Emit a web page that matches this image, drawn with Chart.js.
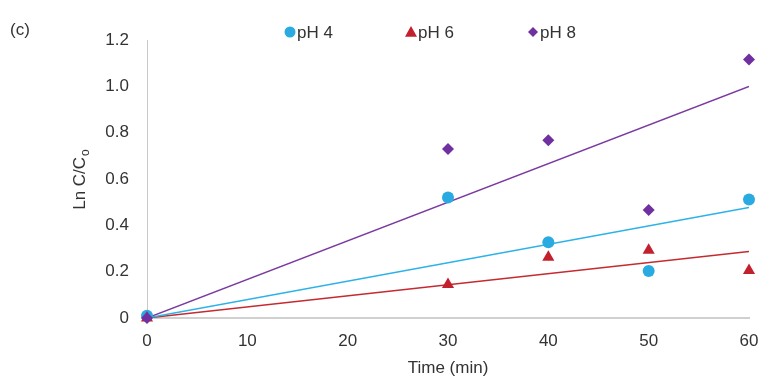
<!DOCTYPE html>
<html lang="en">
  <head>
    <meta charset="UTF-8" />
    <title>Ln C/Co vs time</title>
    <script src="https://cdn.jsdelivr.net/npm/chart.js"></script>
    <style>
      body {
        margin: 0;
        background: #fff;
      }
      canvas {
        display: block;
      }
    </style>
  </head>
  <body>
    <canvas id="chart" width="760" height="381"></canvas>

    <script>
      // measured points (time in min, Ln C/Co)
      const times = [0, 30, 40, 50, 60]
      const ph4 = [0.01, 0.52, 0.327, 0.203, 0.512]
      const ph6 = [0, 0.145, 0.262, 0.292, 0.205]
      const ph8 = [0, 0.729, 0.767, 0.466, 1.116]

      // linear trend lines, start and end values
      const trendX = [0, 60]
      const trend4 = [0, 0.477]
      const trend6 = [0, 0.287]
      const trend8 = [0, 1.0]

      const xTicks = [0, 10, 20, 30, 40, 50, 60]
      const yTicks = [0, 0.2, 0.4, 0.6, 0.8, 1.0, 1.2]

      const FONT = 'Liberation Sans, Arial, sans-serif'
      const TEXT = '#333333'

      const toPts = (xs, ys) => xs.map((x, i) => ({ x: x, y: ys[i] }))

      // draws the marker shapes for the legend
      function marker(ctx, style, x, y, r, color) {
        ctx.save()
        ctx.fillStyle = color
        ctx.beginPath()
        if (style === 'circle') {
          ctx.arc(x, y, r, 0, Math.PI * 2)
        } else if (style === 'triangle') {
          ctx.moveTo(x, y - r)
          ctx.lineTo(x + r, y + r * 0.8)
          ctx.lineTo(x - r, y + r * 0.8)
        } else {
          ctx.moveTo(x, y - r)
          ctx.lineTo(x + r, y)
          ctx.lineTo(x, y + r)
          ctx.lineTo(x - r, y)
        }
        ctx.closePath()
        ctx.fill()
        ctx.restore()
      }

      const extras = {
        id: 'extras',
        afterDraw(chart) {
          const ctx = chart.ctx
          ctx.save()
          ctx.fillStyle = TEXT
          ctx.font = '17px ' + FONT
          ctx.textBaseline = 'middle'
          ctx.fillText('(c)', 10, 30)

          // legend
          const items = [
            { text: 'pH 4', style: 'circle', color: '#29abe2', x: 290, r: 5.5 },
            { text: 'pH 6', style: 'triangle', color: '#c3202e', x: 411, r: 6 },
            { text: 'pH 8', style: 'rectRot', color: '#7030a0', x: 533, r: 5 },
          ]
          items.forEach((it) => {
            marker(ctx, it.style, it.x, 32, it.r, it.color)
            ctx.fillStyle = TEXT
            ctx.fillText(it.text, it.x + 7, 33)
          })

          // y axis title with subscript
          ctx.translate(80, 180)
          ctx.rotate(-Math.PI / 2)
          const main = 'Ln C/C'
          ctx.font = '17px ' + FONT
          const w1 = ctx.measureText(main).width
          ctx.font = '12px ' + FONT
          const w2 = ctx.measureText('o').width
          const start = -(w1 + w2) / 2
          ctx.font = '17px ' + FONT
          ctx.textAlign = 'left'
          ctx.fillText(main, start, 0)
          ctx.font = '12px ' + FONT
          ctx.fillText('o', start + w1 + 1, 6)
          ctx.restore()
        },
      }

      new Chart(document.getElementById('chart'), {
        type: 'scatter',
        data: {
          datasets: [
            {
              label: 'pH 4',
              data: toPts(times, ph4),
              pointStyle: 'circle',
              pointRadius: 6,
              backgroundColor: '#29abe2',
              borderWidth: 0,
              clip: false,
              order: 2,
            },
            {
              label: 'pH 6',
              data: toPts(times, ph6),
              pointStyle: 'triangle',
              pointRadius: 7,
              backgroundColor: '#c3202e',
              borderWidth: 0,
              clip: false,
              order: 1,
            },
            {
              label: 'pH 8',
              data: toPts(times, ph8),
              pointStyle: 'rectRot',
              pointRadius: 6,
              backgroundColor: '#7030a0',
              borderWidth: 0,
              clip: false,
              order: 0,
            },
            {
              type: 'line',
              label: 'trend pH 4',
              data: toPts(trendX, trend4),
              borderColor: '#2bb2e8',
              borderWidth: 1.5,
              pointRadius: 0,
              order: 3,
            },
            {
              type: 'line',
              label: 'trend pH 6',
              data: toPts(trendX, trend6),
              borderColor: '#c42a30',
              borderWidth: 1.5,
              pointRadius: 0,
              order: 3,
            },
            {
              type: 'line',
              label: 'trend pH 8',
              data: toPts(trendX, trend8),
              borderColor: '#7a3aa0',
              borderWidth: 1.5,
              pointRadius: 0,
              order: 3,
            },
          ],
        },
        options: {
          responsive: false,
          animation: false,
          layout: { padding: { left: 60, right: 0, top: 40, bottom: 0 } },
          plugins: {
            legend: { display: false },
            tooltip: { enabled: false },
          },
          scales: {
            x: {
              type: 'linear',
              min: 0,
              max: 60,
              afterBuildTicks: (s) => {
                s.ticks = xTicks.map((v) => ({ value: v }))
              },
              afterFit: (s) => {
                s.height = 63
                s.paddingRight = 11
              },
              grid: { display: false },
              border: { display: true, color: '#d0d0d0', width: 2 },
              ticks: { color: TEXT, font: { family: FONT, size: 17 }, padding: 5 },
              title: {
                display: true,
                text: 'Time (min)',
                color: TEXT,
                font: { family: FONT, size: 17 },
                padding: { top: 4, bottom: 2 },
              },
            },
            y: {
              min: 0,
              max: 1.2,
              afterBuildTicks: (s) => {
                s.ticks = yTicks.map((v) => ({ value: v }))
              },
              afterFit: (s) => {
                s.width = 87
              },
              grid: { display: false },
              border: { display: true, color: '#c8c8c8', width: 1 },
              ticks: {
                color: TEXT,
                font: { family: FONT, size: 17 },
                padding: 10,
                callback: (v) => (v === 0 ? '0' : v.toFixed(1)),
              },
            },
          },
        },
        plugins: [extras],
      })
    </script>
  </body>
</html>
